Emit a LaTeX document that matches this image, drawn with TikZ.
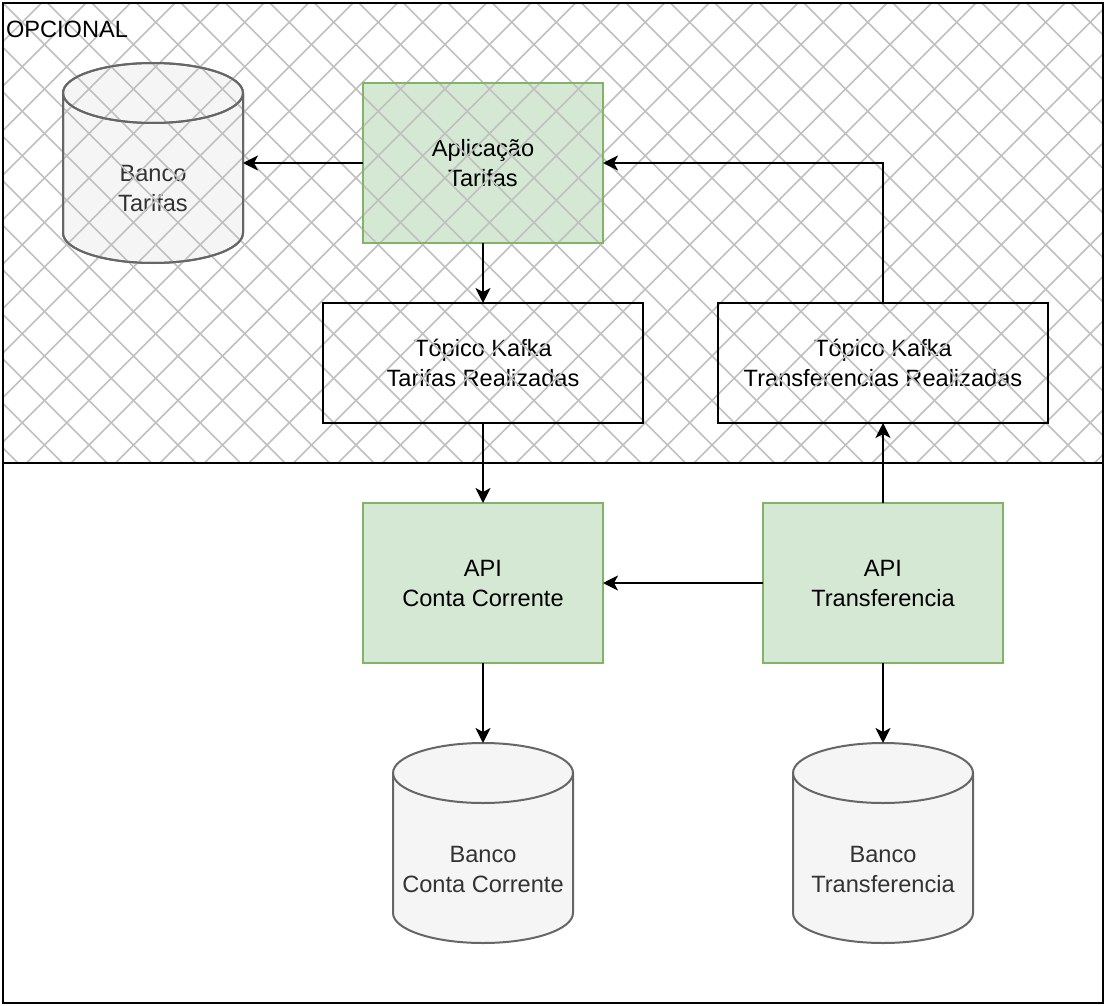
\documentclass[tikz,border=0pt]{standalone}
\usepackage{fontspec}
\setmainfont{Liberation Sans}
\usetikzlibrary{arrows.meta}
\definecolor{gfill}{RGB}{213,232,212}
\definecolor{gline}{RGB}{130,179,102}
\definecolor{cfill}{RGB}{245,245,245}
\definecolor{cline}{RGB}{102,102,102}
\definecolor{ctext}{RGB}{51,51,51}
\definecolor{hatchc}{RGB}{192,192,192}
\newcommand{\mycyl}[3]{% x-left, y-top, style
  \path[#3] (#1,#2+30) -- (#1,#2+170)
     arc[start angle=180,end angle=0,x radius=90,y radius=30]
     -- (#1+180,#2+30)
     arc[start angle=0,end angle=-180,x radius=90,y radius=30] -- cycle;
  \draw[cylline] (#1,#2+30) arc[start angle=180,end angle=0,x radius=90,y radius=30];
}
\begin{document}
\begin{tikzpicture}[x=1pt,y=-1pt,
  every node/.style={font=\fontsize{23.6}{30}\selectfont, align=center, inner sep=0pt, outer sep=0pt},
  greenbox/.style={draw=gline, fill=gfill, line width=2pt, minimum width=240pt, minimum height=160pt},
  topicbox/.style={draw=black, fill=white, line width=2pt, minimum height=120pt},
  cylarea/.style={minimum width=180pt, minimum height=200pt},
  cylshape/.style={draw=cline, fill=cfill, line width=2pt},
  cylline/.style={draw=cline, line width=2pt},
  cyltext/.style={text=ctext},
  conn/.style={draw=black, line width=2pt, -{Stealth[length=15pt,width=15pt,inset=4pt]}},
  container/.style={draw=black, line width=2pt, fill=none},
  hatchline/.style={draw=hatchc, line width=1.6pt},
  border/.style={draw=black, line width=2pt}
]
\useasboundingbox (0,0) rectangle (1106,1006);
\fill[white] (0,0) rectangle (1106,1006);

% cylinders
\node[cylarea] (bt) at (153,163) {};
\mycyl{63}{63}{cylshape}
\node[cyltext] (btlabel) at (153,188) {Banco\\Tarifas};

\node[cylarea] (bcc) at (483,843) {};
\mycyl{393}{743}{cylshape}
\node[cyltext] (bcclabel) at (483,869) {Banco\\Conta Corrente};

\node[cylarea] (btr) at (883,843) {};
\mycyl{793}{743}{cylshape}
\node[cyltext] (btrlabel) at (883,869) {Banco\\Transferencia};

% boxes
\node[greenbox] (app) at (483,163) {Aplicação\\Tarifas};
\node[topicbox, minimum width=320pt] (tkt) at (483,363) {Tópico Kafka\\Tarifas Realizadas};
\node[topicbox, minimum width=330pt] (tkr) at (883,363) {Tópico Kafka\\Transferencias Realizadas};
\node[greenbox] (apicc) at (483,583) {API\\Conta Corrente};
\node[greenbox] (apit) at (883,583) {API\\Transferencia};

% hatch overlay on optional area
\begin{scope}
  \clip (3,3) rectangle (1103,463);
  \foreach \k in {-11,...,25} {
    \draw[hatchline] (\k*44.5,0) -- (\k*44.5+470,470);
  }
  \foreach \k in {0,...,36} {
    \draw[hatchline] (\k*44.5,0) -- (\k*44.5-470,470);
  }
\end{scope}

% outlines redrawn above the hatch
\mycyl{63}{63}{cylline}
\draw[border] (tkt.north west) rectangle (tkt.south east);
\draw[border] (tkr.north west) rectangle (tkr.south east);
\draw[border,draw=gline] (app.north west) rectangle (app.south east);

% connectors
\draw[conn] (app.west) -- (bt.east);
\draw[conn] (app.south) -- (tkt.north);
\draw[conn] (tkr.north) |- (app.east);
\draw[conn] (tkt.south) -- (apicc.north);
\draw[conn] (apit.north) -- (tkr.south);
\draw[conn] (apit.west) -- (apicc.east);
\draw[conn] (apicc.south) -- (bcc.north);
\draw[conn] (apit.south) -- (btr.north);

% containers
\node[container, minimum width=1100pt, minimum height=1000pt] (main) at (553,503) {};
\node[container, minimum width=1100pt, minimum height=460pt] (opt) at (553,233) {};
\node[anchor=west] (optlabel) at (6,29) {OPCIONAL};
\end{tikzpicture}
\end{document}
